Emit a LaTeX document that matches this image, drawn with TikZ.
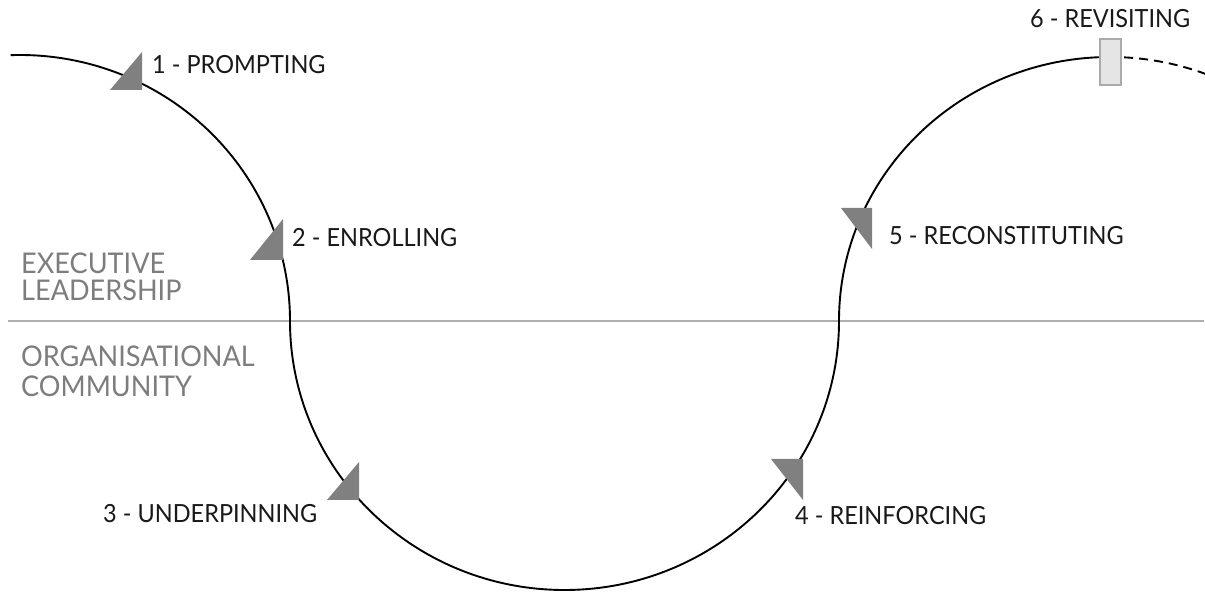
\documentclass[tikz,border=0pt]{standalone}
\usepackage{fontspec}
\setmainfont{Lato}
\newfontfamily\stepfont[FakeStretch=0.94]{Lato}
\newfontfamily\sidefont[FakeStretch=0.95]{Lato}
\definecolor{tri}{RGB}{128,128,128}
\definecolor{sidegray}{RGB}{125,125,125}
\definecolor{rulegray}{RGB}{175,175,175}
\definecolor{boxfill}{RGB}{229,229,229}
\definecolor{boxdraw}{RGB}{170,170,170}
\begin{document}
\begin{tikzpicture}[x=1pt,y=1pt,
  curve/.style={line width=1.9pt,black},
  dashcurve/.style={line width=1.9pt,black,dash pattern=on 9pt off 6pt},
  marker/.style={fill=tri,draw=none},
  steplabel/.style={anchor=base west,inner sep=0pt,font=\stepfont\fontsize{25}{30}\selectfont,text=black!90},
  sidelabel/.style={anchor=base west,inner sep=0pt,font=\sidefont\fontsize{28.5}{34}\selectfont,text=sidegray},
  revbox/.style={draw=boxdraw,fill=boxfill,line width=1.3pt,minimum width=21pt,minimum height=46pt,inner sep=0pt}]
\useasboundingbox (0,0) rectangle (1205,592);
\fill[white] (0,0) rectangle (1205,592);
% divider
\coordinate (ruleL) at (8,271);
\coordinate (ruleR) at (1204,271);
\draw[rulegray,line width=1.6pt] (ruleL) -- (ruleR);
% main curve
\coordinate (start) at ({20+270*cos(92)},{271+266*sin(92)});
\coordinate (cross1) at (290,271);
\coordinate (cross2) at (839,271);
\draw[curve] (start) arc[start angle=92,end angle=0,x radius=270,y radius=266]
  arc[start angle=180,end angle=360,x radius=274.5,y radius=269]
  arc[start angle=180,end angle=92.1,x radius=271,y radius=264] coordinate (revin);
\coordinate (dashA) at ({1110+271*cos(87)},{271+264*sin(87)});
\draw[dashcurve] (dashA) arc[start angle=87,end angle=66,x radius=271,y radius=264];
\node[revbox] (rev) at (1110.5,530) {};
% markers
\fill[marker] (142,540) -- (110,502) -- (142,502) -- cycle;
\fill[marker] (283,373) -- (250,332) -- (283,332) -- cycle;
\fill[marker] (359,130) -- (327,92) -- (359,92) -- cycle;
\fill[marker] (771,133) -- (803,133) -- (803,92) -- cycle;
\fill[marker] (841,384) -- (872,384) -- (872,343) -- cycle;
% step labels
\node[steplabel] (l1) at (152,518) {1 - PROMPTING};
\node[steplabel] (l2) at (292,345) {2 - ENROLLING};
\node[steplabel] (l3) at (103,70) {3 - UNDERPINNING};
\node[steplabel] (l4) at (795,67) {4 - REINFORCING};
\node[steplabel] (l5) at (889,347) {5 - RECONSTITUTING};
\node[steplabel] (l6) at (1030,564) {6 - REVISITING};
% side labels
\node[sidelabel] (s1) at (21,318) {EXECUTIVE};
\node[sidelabel] (s2) at (21,291) {LEADERSHIP};
\node[sidelabel] (s3) at (21,225) {ORGANISATIONAL};
\node[sidelabel] (s4) at (21,195) {COMMUNITY};
\end{tikzpicture}
\end{document}
